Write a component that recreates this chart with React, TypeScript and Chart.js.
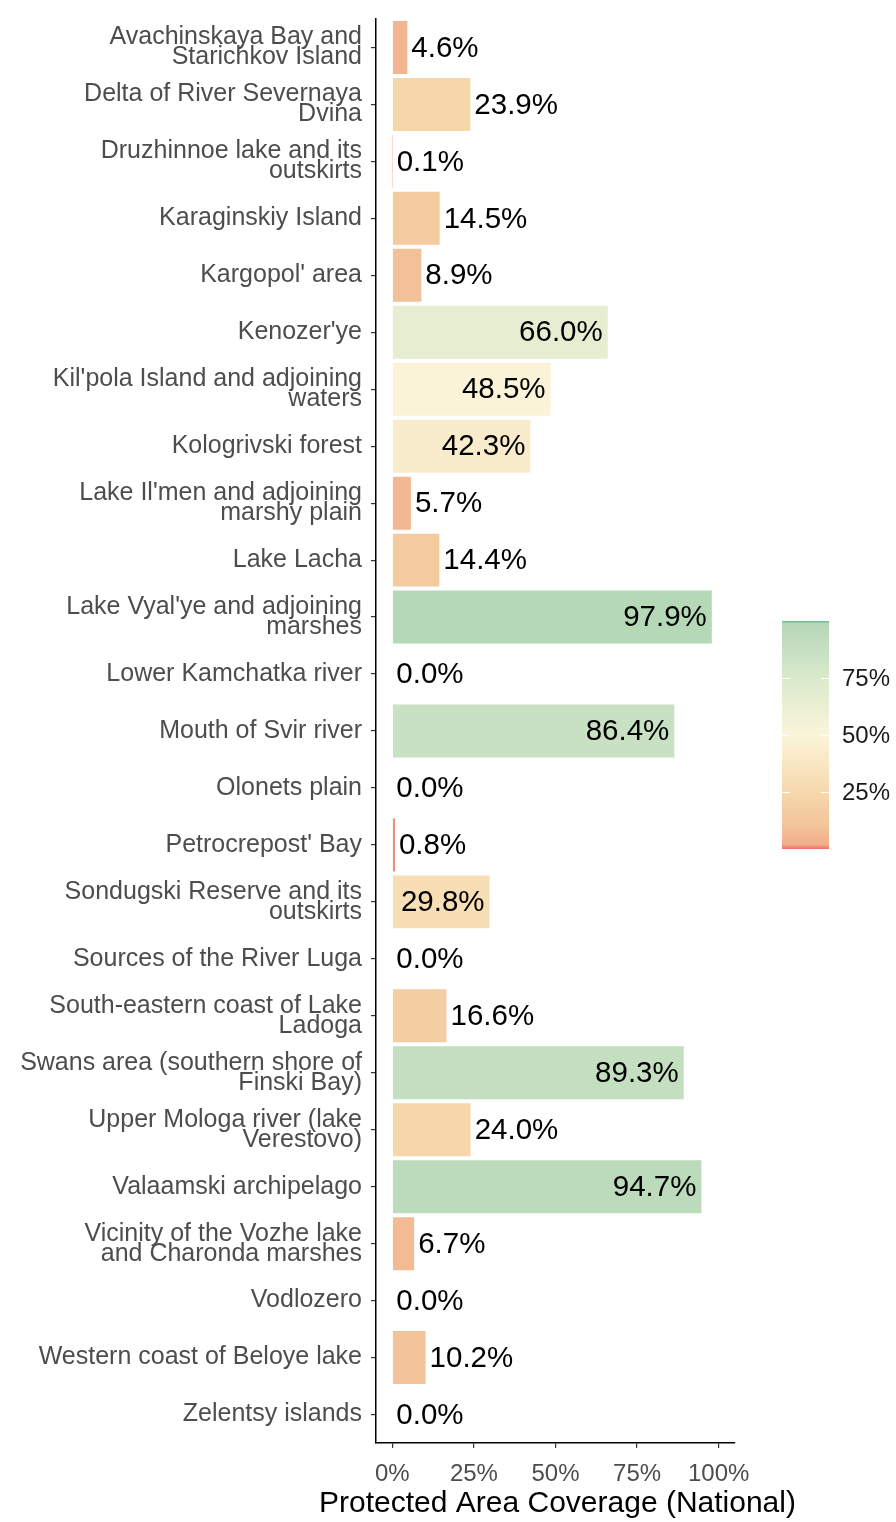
import React, { useEffect, useRef } from "react";
import { Chart, registerables } from "chart.js";

Chart.register(...registerables);

const categories: string[][] = [
  ["Avachinskaya Bay and", "Starichkov Island"],
  ["Delta of River Severnaya", "Dvina"],
  ["Druzhinnoe lake and its", "outskirts"],
  ["Karaginskiy Island"],
  ["Kargopol' area"],
  ["Kenozer'ye"],
  ["Kil'pola Island and adjoining", "waters"],
  ["Kologrivski forest"],
  ["Lake Il'men and adjoining", "marshy plain"],
  ["Lake Lacha"],
  ["Lake Vyal'ye and adjoining", "marshes"],
  ["Lower Kamchatka river"],
  ["Mouth of Svir river"],
  ["Olonets plain"],
  ["Petrocrepost' Bay"],
  ["Sondugski Reserve and its", "outskirts"],
  ["Sources of the River Luga"],
  ["South-eastern coast of Lake", "Ladoga"],
  ["Swans area (southern shore of", "Finski Bay)"],
  ["Upper Mologa river (lake", "Verestovo)"],
  ["Valaamski archipelago"],
  ["Vicinity of the Vozhe lake", "and Charonda marshes"],
  ["Vodlozero"],
  ["Western coast of Beloye lake"],
  ["Zelentsy islands"],
];

const coverage: number[] = [
  4.6, 23.9, 0.1, 14.5, 8.9, 66.0, 48.5, 42.3, 5.7, 14.4, 97.9, 0.0, 86.4, 0.0,
  0.8, 29.8, 0.0, 16.6, 89.3, 24.0, 94.7, 6.7, 0.0, 10.2, 0.0,
];

const xTicks: number[] = [0, 25, 50, 75, 100];
const legendTicks: number[] = [25, 50, 75];
const axisTitle = "Protected Area Coverage (National)";

const colorStops: [number, string][] = [
  [0, "#f06e62"],
  [2, "#f2ae8b"],
  [5, "#f3b690"],
  [10, "#f3c49a"],
  [25, "#f6d8ac"],
  [50, "#fbf5da"],
  [75, "#dae9cc"],
  [97, "#b8d9b9"],
  [99, "#b2d7b4"],
  [100, "#62b484"],
];

const FONT = "'Liberation Sans', Arial, sans-serif";

function hexToRgb(h: string): number[] {
  const n = parseInt(h.slice(1), 16);
  return [(n >> 16) & 255, (n >> 8) & 255, n & 255];
}

function colorFor(v: number): string {
  if (v <= colorStops[0][0]) return colorStops[0][1];
  for (let i = 1; i < colorStops.length; i++) {
    const [v1, c1] = colorStops[i];
    const [v0, c0] = colorStops[i - 1];
    if (v <= v1) {
      const t = (v - v0) / (v1 - v0);
      const a = hexToRgb(c0);
      const b = hexToRgb(c1);
      const r = a.map((x, k) => Math.round(x + (b[k] - x) * t));
      return `rgb(${r[0]},${r[1]},${r[2]})`;
    }
  }
  return colorStops[colorStops.length - 1][1];
}

const valueLabelPlugin = {
  id: "valueLabels",
  afterDatasetsDraw(chart: any) {
    const ctx = chart.ctx;
    const meta = chart.getDatasetMeta(0);
    ctx.save();
    ctx.font = `29.5px ${FONT}`;
    ctx.fillStyle = "#000000";
    ctx.textBaseline = "middle";
    meta.data.forEach((el: any, i: number) => {
      const v = coverage[i];
      const txt = v.toFixed(1) + "%";
      if (v > 25) {
        ctx.textAlign = "right";
        ctx.fillText(txt, el.x - 5, el.y + 1);
      } else {
        ctx.textAlign = "left";
        ctx.fillText(txt, el.x + 4, el.y + 1);
      }
    });
    ctx.restore();
  },
};

const legendPlugin = {
  id: "colorLegend",
  afterDraw(chart: any) {
    const ctx = chart.ctx;
    const x0 = 782;
    const x1 = 829;
    const yBottom = 849;
    const yTop = 621;
    const h = yBottom - yTop;
    ctx.save();
    for (let p = 0; p < h; p++) {
      const v = ((p + 0.5) / h) * 100;
      ctx.fillStyle = colorFor(v);
      ctx.fillRect(x0, yBottom - p - 1, x1 - x0, 1);
    }
    ctx.strokeStyle = "#ffffff";
    ctx.lineWidth = 1;
    ctx.font = `24px ${FONT}`;
    ctx.fillStyle = "#1a1a1a";
    ctx.textAlign = "left";
    ctx.textBaseline = "middle";
    legendTicks.forEach((t) => {
      const y = Math.round(yBottom - (t / 100) * h) + 0.5;
      ctx.beginPath();
      ctx.moveTo(x0, y);
      ctx.lineTo(x0 + 8, y);
      ctx.moveTo(x1 - 8, y);
      ctx.lineTo(x1, y);
      ctx.stroke();
      ctx.fillText(t + "%", 842, y + 1);
    });
    // axis title
    const xs = chart.scales.x;
    ctx.font = `30px ${FONT}`;
    ctx.fillStyle = "#000000";
    ctx.textAlign = "center";
    ctx.textBaseline = "middle";
    ctx.fillText(axisTitle, (xs.left + xs.right) / 2 + 2, 1504);
    ctx.restore();
  },
};

export default function App() {
  const ref = useRef<HTMLCanvasElement | null>(null);

  useEffect(() => {
    if (!ref.current) return;
    const chart = new Chart(ref.current, {
      type: "bar",
      data: {
        labels: categories,
        datasets: [
          {
            data: coverage,
            backgroundColor: coverage.map((v) => colorFor(v)),
            borderWidth: 0,
            barPercentage: 0.93,
            categoryPercentage: 1,
          },
        ],
      },
      options: {
        indexAxis: "y",
        responsive: false,
        animation: false,
        devicePixelRatio: 1,
        layout: { padding: { top: 15, right: 161, left: 0, bottom: 0 } },
        plugins: {
          legend: { display: false },
          tooltip: { enabled: false },
        },
        scales: {
          y: {
            type: "category",
            offset: true,
            afterFit: (s: any) => {
              s.width = 376;
            },
            grid: {
              offset: false,
              drawOnChartArea: false,
              drawTicks: true,
              tickLength: 5,
              color: "#333333",
              lineWidth: 1.2,
            },
            border: { display: true, color: "#000000", width: 1.5 },
            ticks: {
              color: "#4d4d4d",
              padding: 9,
              autoSkip: false,
              font: { family: FONT, size: 25, lineHeight: 0.8 },
            },
          },
          x: {
            type: "linear",
            min: -5,
            max: 105,
            afterFit: (s: any) => {
              s.height = 79;
            },
            afterBuildTicks: (s: any) => {
              s.ticks = xTicks.map((v) => ({ value: v }));
            },
            grid: {
              drawOnChartArea: false,
              drawTicks: true,
              tickLength: 5,
              color: "#333333",
              lineWidth: 1.2,
            },
            border: { display: true, color: "#000000", width: 1.5 },
            ticks: {
              color: "#4d4d4d",
              padding: 12,
              maxRotation: 0,
              font: { family: FONT, size: 24 },
              callback: (v: any) => v + "%",
            },
          },
        },
      },
      plugins: [valueLabelPlugin, legendPlugin],
    });
    return () => chart.destroy();
  }, []);

  return (
    <div style={{ position: "absolute", left: 0, top: 0, width: 896, height: 1522, background: "#ffffff" }}>
      <canvas ref={ref} width={896} height={1522} style={{ display: "block", width: 896, height: 1522 }} />
    </div>
  );
}
